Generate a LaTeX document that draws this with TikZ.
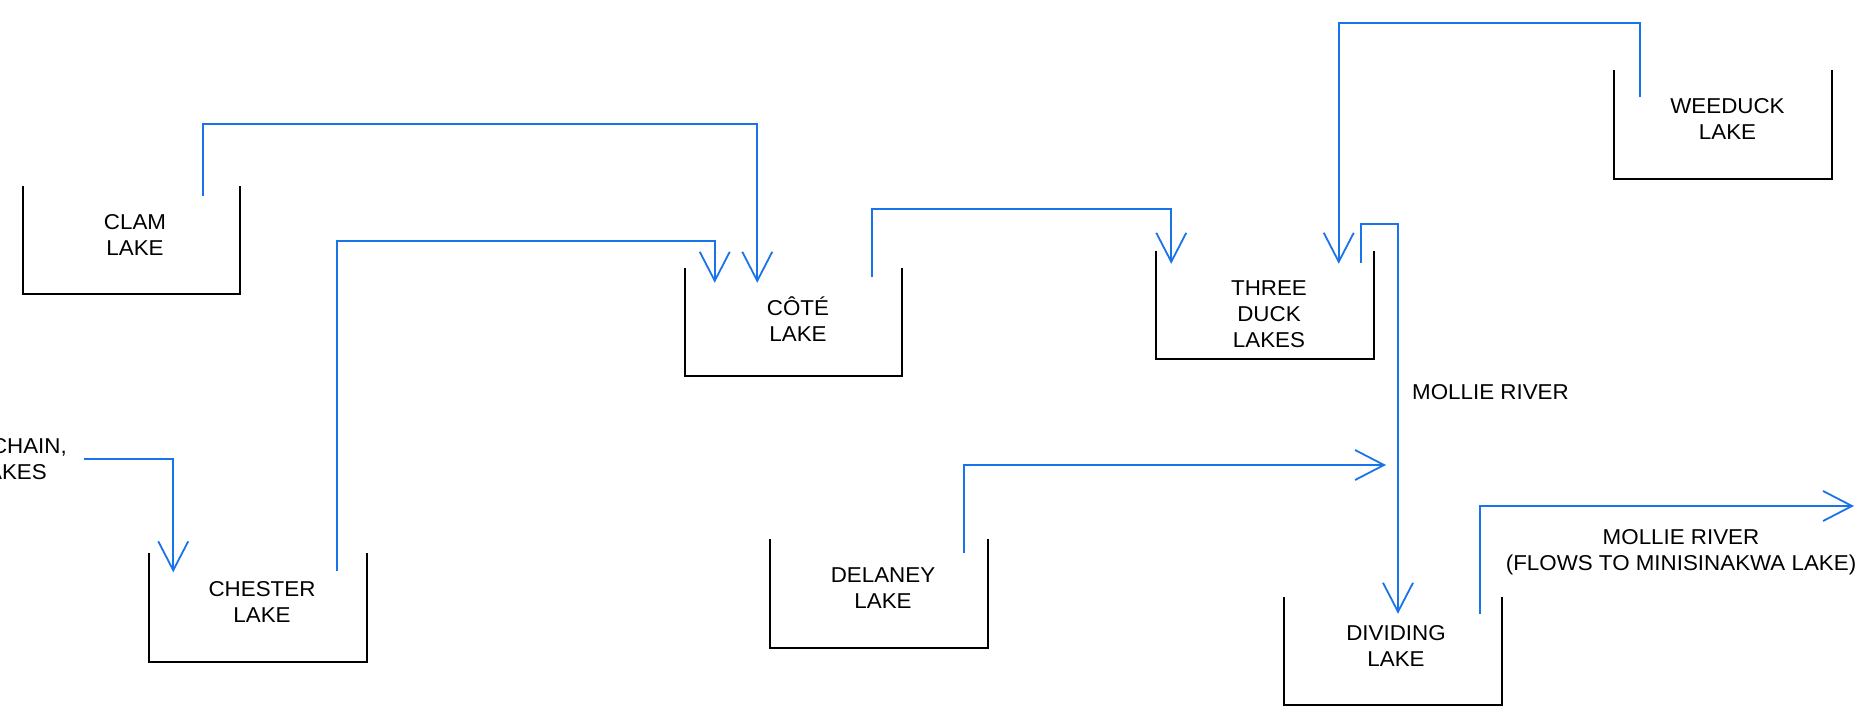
\documentclass[tikz,border=0pt]{standalone}
\usepackage{fontspec}
\setmainfont[FakeStretch=1.04]{Liberation Sans}
\usetikzlibrary{arrows.meta}
\definecolor{flowblue}{RGB}{24,116,232}
\begin{document}
\begin{tikzpicture}[x=1pt,y=-1pt,
  lakebox/.style={minimum width=217.5pt,minimum height=108.5pt,inner sep=0pt,outer sep=0pt},
  lakewall/.style={draw=black,line width=2.4pt},
  txt/.style={inner sep=0pt,align=center,font=\fontsize{21.5}{26}\selectfont},
  lakelabel/.style={txt,anchor=south},
  flow/.style={draw=flowblue,line width=1.8pt,-{Straight Barb[length=29pt,width=30pt]}}]
\useasboundingbox (0,0) rectangle (1861,709);

% lakes
\node[lakebox] (clam)     at (131.5,240)   {};
\node[lakebox] (chester)  at (258,607.5)   {};
\node[lakebox] (cote)     at (793.5,322)   {};
\node[lakebox] (three)    at (1265,305)    {};
\node[lakebox] (weeduck)  at (1723,124.5)  {};
\node[lakebox] (delaney)  at (879,593.5)   {};
\node[lakebox] (dividing) at (1393,651)    {};

\foreach \l in {clam,chester,cote,three,weeduck,delaney,dividing}
  \draw[lakewall] (\l.north west) |- (\l.south east) -- (\l.north east);

% lake names
\node[lakelabel] (clamT)     at (135,255.5)   {CLAM\\LAKE};
\node[lakelabel] (chesterT)  at (262,622.5)   {CHESTER\\LAKE};
\node[lakelabel] (coteT)     at (798,341.5)   {CÔTÉ\\LAKE};
\node[lakelabel] (threeT)    at (1269,347.5)  {THREE\\DUCK\\LAKES};
\node[lakelabel] (weeduckT)  at (1727.5,140)  {WEEDUCK\\LAKE};
\node[lakelabel] (delaneyT)  at (883,609)     {DELANEY\\LAKE};
\node[lakelabel] (dividingT) at (1396,667)    {DIVIDING\\LAKE};

% other labels
\node[txt,anchor=base east] (chainA) at (67,453) {CHAIN,};
\node[txt,anchor=base east] (chainB) at (47,479) {LAKES};
\node[txt,anchor=base west] (mollieA) at (1412,399) {MOLLIE RIVER};
\node[txt,anchor=north] (mollieB) at (1681,529) {MOLLIE RIVER\\(FLOWS TO MINISINAKWA LAKE)};

% free ends
\coordinate (chainIn) at (84,459);
\coordinate (mollieJoin) at (1386,465);
\coordinate (outlet) at (1854,506);

% flows
\draw[flow] ([shift={(-37,10)}]clam.north east) -- ++(0,-72) -| ([shift={(-145,15)}]cote.north east);
\draw[flow] ([shift={(-30,18)}]chester.north east) -- ++(0,-330) -| ([shift={(30,15)}]cote.north west);
\draw[flow] ([shift={(-30,9)}]cote.north east) -- ++(0,-68) -| ([shift={(15,13)}]three.north west);
\draw[flow] ([shift={(26,27)}]weeduck.north west) -- ++(0,-74) -| ([shift={(-35,13)}]three.north east);
\draw[flow] ([shift={(-13,12)}]three.north east) -- ++(0,-39) -| ([shift={(5,17)}]dividing.north);
\draw[flow] ([shift={(-24,14)}]delaney.north east) |- (mollieJoin);
\draw[flow] ([shift={(-22,17)}]dividing.north east) |- (outlet);
\draw[flow] (chainIn) -| ([shift={(24,19)}]chester.north west);
\end{tikzpicture}
\end{document}
